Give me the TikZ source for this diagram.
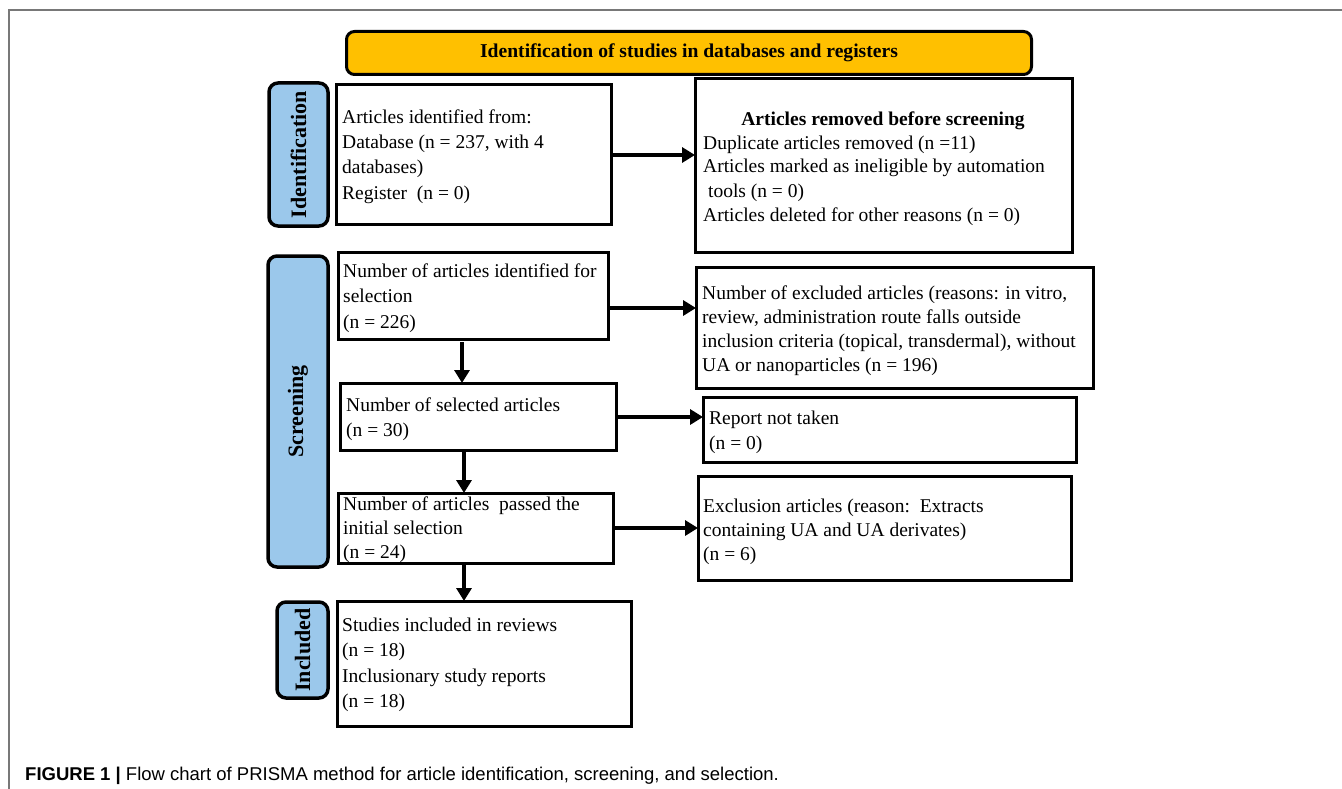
\documentclass[tikz,border=0pt]{standalone}
\usepackage{fontspec}
\setmainfont{Liberation Serif}
\newfontfamily\capfont{Liberation Sans}
\usetikzlibrary{arrows.meta}
\definecolor{gold}{RGB}{255,192,0}
\definecolor{lblue}{RGB}{155,200,235}
\definecolor{framegray}{RGB}{120,120,120}
\begin{document}
\begin{tikzpicture}[x=1pt,y=-1pt,
 box/.style={draw, line width=3pt, inner sep=0pt, outer sep=0pt, anchor=north west},
 side/.style={draw, line width=3.5pt, fill=lblue, rounded corners=9pt, inner sep=0pt, outer sep=0pt, anchor=north west},
 sidetext/.style={rotate=90, inner sep=0pt, font=\bfseries\fontsize{22}{22}\selectfont},
 txt/.style={inner sep=0pt, align=left, anchor=base west, font=\fontsize{19.5}{25.5}\selectfont},
 txtb/.style={inner sep=0pt, align=left, anchor=base west, font=\fontsize{19.5}{24}\selectfont},
 arr/.style={line width=4pt, -{Triangle[length=13pt,width=15pt]}},
]
\useasboundingbox (0,0) rectangle (1342,789);
% frame
\draw[framegray, line width=1.5pt] (9,789) -- (9,10) -- (1342,10);
% banner
\node[draw, line width=3pt, fill=gold, rounded corners=8pt, inner sep=0pt, minimum width=685pt, minimum height=43pt, anchor=north west] (ban) at (345,30) {};
\node[inner sep=0pt, font=\bfseries\fontsize{19.6}{20}\selectfont] (bant) at (ban.center) {Identification of studies in databases and registers};
% side labels
\node[side, minimum width=59pt, minimum height=143pt] (lid) at (269,83) {};
\node[sidetext] (lidt) at (lid.center) {Identification};
\node[side, minimum width=60pt, minimum height=311pt] (lsc) at (268,256) {};
\node[sidetext] (lsct) at (lsc.center) {Screening};
\node[side, minimum width=51pt, minimum height=96pt] (lin) at (277,602) {};
\node[sidetext] (lint) at (lin.center) {Included};
% boxes
\node[box, minimum width=275pt, minimum height=139pt] (a1) at (336,85) {};
\node[box, minimum width=377pt, minimum height=173pt] (a2) at (695,79) {};
\node[box, minimum width=270pt, minimum height=87pt] (s1) at (338,252) {};
\node[box, minimum width=397pt, minimum height=121pt] (s1r) at (696,267) {};
\node[box, minimum width=276pt, minimum height=67pt] (s2) at (340,383) {};
\node[box, minimum width=373pt, minimum height=65pt] (s2r) at (703,397) {};
\node[box, minimum width=275pt, minimum height=70pt] (s3) at (338,493) {};
\node[box, minimum width=373pt, minimum height=104pt] (s3r) at (698,476) {};
\node[box, minimum width=294pt, minimum height=125pt] (inc) at (337,601) {};
% texts (anchor = baseline of the last line)
\node[txt] (a1t) at (342,199.5) {Articles identified from:\\Database (n = 237, with 4\\databases)\\Register\ \ (n = 0)};
\node[inner sep=0pt, anchor=base, font=\bfseries\fontsize{19.5}{24}\selectfont] (a2h) at (883,126) {Articles removed before screening};
\node[txtb] (a2t) at (703,221) {Duplicate articles removed (n =11)\\Articles marked as ineligible by automation\\\ tools (n = 0)\\Articles deleted for other reasons (n = 0)};
\node[txt] (s1t) at (343,328) {Number of articles identified for\\selection\\(n = 226)};
\node[txtb] (s1rt) at (702,371) {Number of excluded articles (reasons: in vitro,\\review, administration route falls outside\\inclusion criteria (topical, transdermal), without\\UA or nanoparticles (n = 196)};
\node[txt] (s2t) at (346,436.5) {Number of selected articles\\(n = 30)};
\node[txt] (s2rt) at (709,449.5) {Report not taken\\(n = 0)};
\node[txtb] (s3t) at (343,558) {Number of articles\ \ passed the\\initial selection\\(n = 24)};
\node[txtb] (s3rt) at (703,560) {Exclusion articles (reason:\ \ Extracts\\containing UA and UA derivates)\\(n = 6)};
\node[txt] (inct) at (342,707.5) {Studies included in reviews\\(n = 18)\\Inclusionary study reports\\(n = 18)};
% arrow helper coordinates
\coordinate (ya) at (0,155);
\coordinate (yb) at (0,308);
\coordinate (yc) at (0,417);
\coordinate (yd) at (0,528);
\coordinate (xa) at (462,0);
\coordinate (xb) at (464,0);
% arrows
\draw[arr] (a1.east |- ya) -- (a2.west |- ya);
\draw[arr] (s1.east |- yb) -- (s1r.west |- yb);
\draw[arr] (s2.east |- yc) -- (s2r.west |- yc);
\draw[arr] (s3.east |- yd) -- (s3r.west |- yd);
\draw[arr] ([yshift=-3pt]s1.south -| xa) -- (s2.north -| xa);
\draw[arr] ([yshift=-2pt]s2.south -| xb) -- (s3.north -| xb);
\draw[arr] ([yshift=-2pt]s3.south -| xb) -- (inc.north -| xb);
% caption
\node[inner sep=0pt, anchor=base west, font=\capfont\fontsize{18.5}{20}\selectfont] (cap) at (25,780) {\textbf{FIGURE 1 |} Flow chart of PRISMA method for article identification, screening, and selection.};
\end{tikzpicture}
\end{document}
